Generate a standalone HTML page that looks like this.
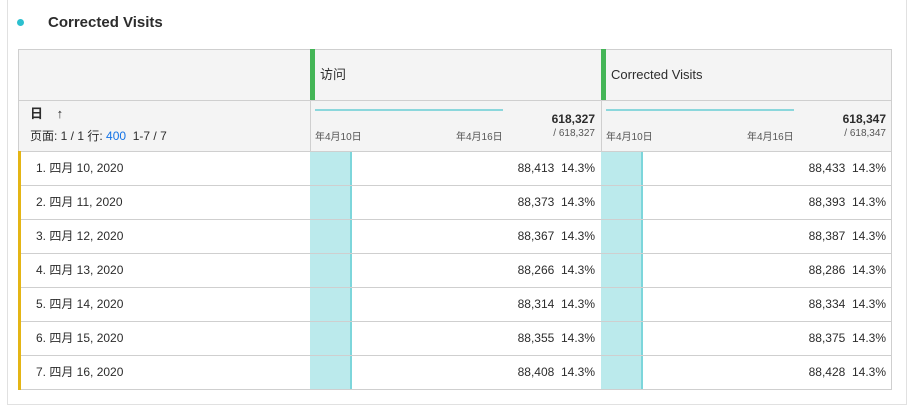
<!DOCTYPE html>
<html><head><meta charset="utf-8"><style>
body{margin:0;width:911px;height:408px;background:#fff;font-family:"Liberation Sans","Noto Sans CJK SC",sans-serif;color:#2c2c2c;position:relative;overflow:hidden}
.abs{position:absolute}
#card{left:7px;top:0;width:900px;height:405px;border:1px solid #e1e1e1;border-top:none;box-sizing:border-box}
.hdr{background:#f4f4f4;border:1px solid #cfcfcf;box-sizing:border-box}
.t{white-space:nowrap;line-height:14px}
.s{line-height:12px}
</style></head><body>
<div id="card" class="abs"></div>
<div class="abs" style="left:17px;top:19px;width:7px;height:7px;border-radius:50%;background:#2cc0cf"></div>
<div class="abs t" style="left:48px;top:14px;font-size:15px;line-height:18px;font-weight:bold;color:#2c2c2c">Corrected Visits</div>
<div id="tbl" class="abs" style="left:18px;top:49px;width:874px;height:341px"></div>
<script>
const days=["四月 10, 2020","四月 11, 2020","四月 12, 2020","四月 13, 2020","四月 14, 2020","四月 15, 2020","四月 16, 2020"];
const visits=[88413,88373,88367,88266,88314,88355,88408];
const corrected=[88433,88393,88387,88286,88334,88375,88428];
const metricNames=["访问","Corrected Visits"];
const totals=[618327,618347];
const series=[visits,corrected];
const T=document.getElementById('tbl');
function el(css,html,name,inter){const d=document.createElement('div');d.className='abs';d.style.cssText=css;if(html!=null)d.innerHTML=html;


T.appendChild(d);return d;}
const fmt=n=>n.toLocaleString('en-US');
const colX=[0,292,583],colW=[292,291,291];
el('left:0;top:0;width:874px;height:52px','', 'header-row',false).className='abs hdr';
el('left:0;top:51px;width:874px;height:52px','', 'summary-row',false).className='abs hdr';
el('left:292px;top:0;width:1px;height:103px;background:#cfcfcf','', 'col-divider',false);
el('left:583px;top:0;width:1px;height:103px;background:#cfcfcf','', 'col-divider',false);
el('left:12px;top:58px;font-size:13px;font-weight:bold','日 <span style="font-weight:normal;margin-left:10px">↑</span>','dimension-header',true).className='abs t';
el('left:12px;top:80px;font-size:12px','页面: 1 / 1 行: <span style="color:#1473e6">400</span>&nbsp;&nbsp;1-7 / 7','pagination',true).className='abs t';
for(let m=0;m<2;m++){
 const x=colX[m+1],w=colW[m+1];
 el(`left:${x}px;top:0;width:5px;height:51px;background:#44b556`,'','drag-handle',true);
 el(`left:${x+10}px;top:19px;font-size:13px`,metricNames[m],'metric-header-'+m,true).className='abs t';
 el(`left:${x+5}px;top:60px;width:188px;height:2px;background:#8bd7dc`,'','sparkline-'+m,false);
 el(`left:${x+5}px;top:83px;font-size:10px;color:#555`,'年4月10日','spark-start-label',false).className='abs t s';
 el(`left:${x+146}px;top:83px;font-size:10px;color:#555`,'年4月16日','spark-end-label',false).className='abs t s';
 el(`left:${x+200}px;top:63px;width:${w-206}px;text-align:right;font-size:12px;font-weight:bold`,fmt(totals[m]),'column-total',false).className='abs t';
 el(`left:${x+200}px;top:79px;width:${w-206}px;text-align:right;font-size:10px;color:#555`,'/ '+fmt(totals[m]),'grand-total',false).className='abs t s';
}
const rowH=34,top0=102;
for(let i=0;i<days.length;i++){
 const y=top0+i*rowH;
 el(`left:0;top:${y}px;width:874px;height:${rowH+1}px;border:1px solid #cfcfcf;box-sizing:border-box;background:#fff`,'','row-'+(i+1),true);
 el(`left:0;top:${y}px;width:3px;height:${rowH+1}px;background:#e4b515`,'','row-marker',false);
 el(`left:18px;top:${y+10}px;font-size:12px`,(i+1)+'. '+days[i],'row-label',true).className='abs t';
 for(let m=0;m<2;m++){
  const x=colX[m+1],w=colW[m+1],v=series[m][i],tot=totals[m];
  el(`left:${x}px;top:${y}px;width:1px;height:${rowH+1}px;background:#cfcfcf`,'','cell-divider',false);
  const bw=v/tot*w;
  el(`left:${x}px;top:${y+1}px;width:${bw}px;height:${rowH-1}px;background:#bbeaec;border-right:2px solid #7dd6db;box-sizing:border-box`,'','bar-'+m+'-'+(i+1),false);
  el(`left:${x+100}px;top:${y+10}px;width:${w-106}px;text-align:right;font-size:12px`,fmt(v)+'&nbsp;&nbsp;'+(v/tot*100).toFixed(1)+'%','cell-value',false).className='abs t';
 }
}
</script>
</body></html>
